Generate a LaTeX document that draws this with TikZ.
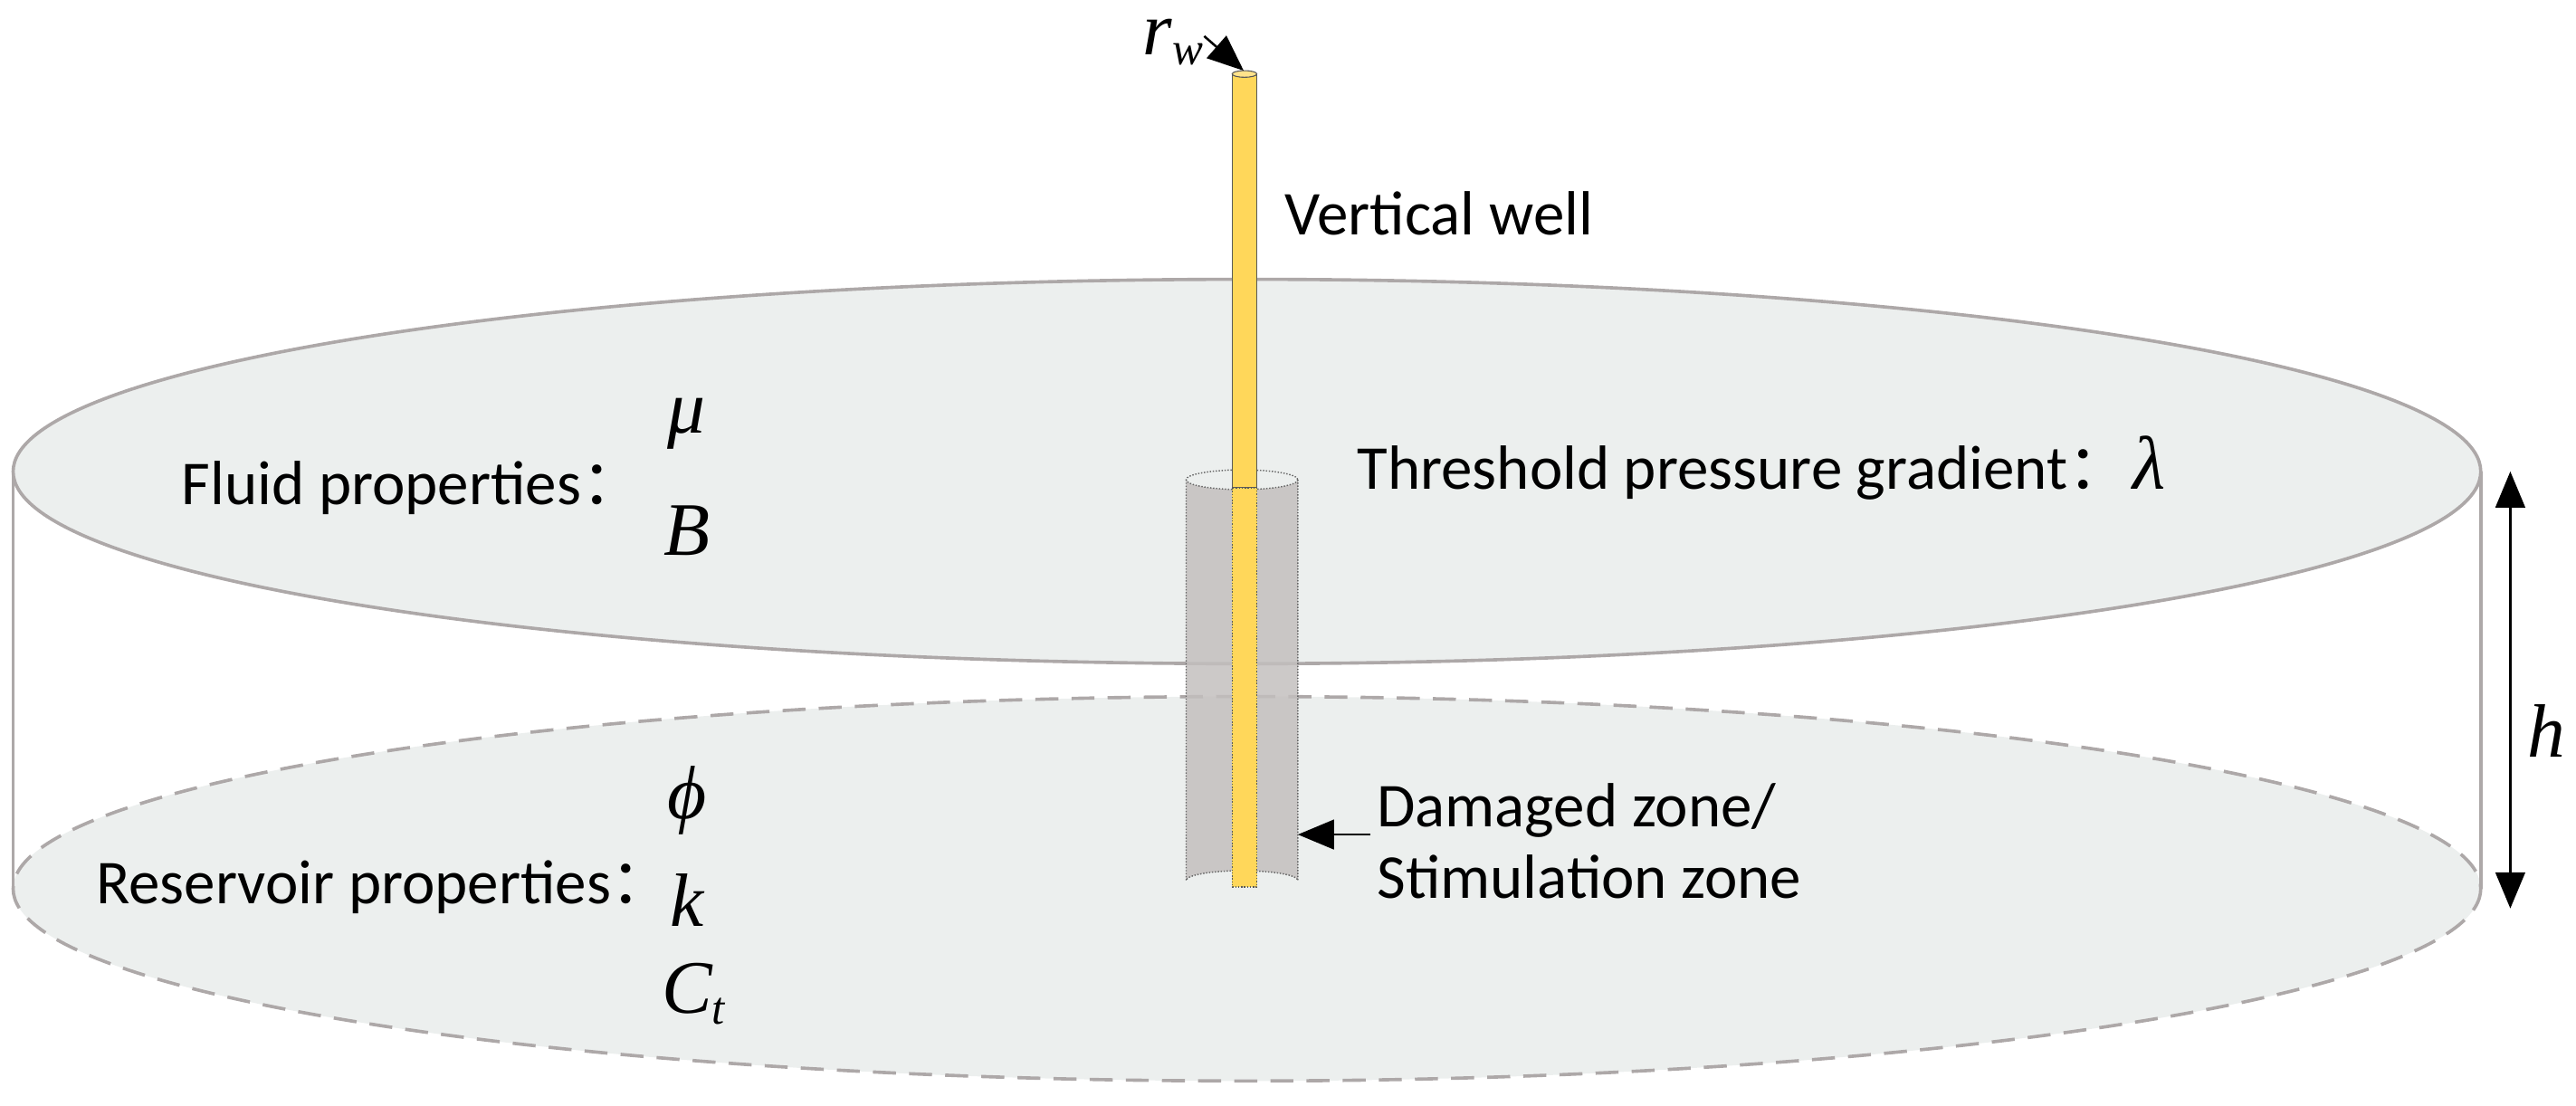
\documentclass[tikz,border=0pt]{standalone}
\usepackage{fontspec}
\setmainfont{Carlito}
\newfontfamily\cjk{Noto Sans CJK SC}
\newfontfamily\tms{Liberation Serif}
\usetikzlibrary{arrows.meta}
\definecolor{disk}{HTML}{ECEFEE}
\definecolor{rim}{HTML}{ADA8A8}
\definecolor{well}{HTML}{FFD75A}
\definecolor{dmg}{HTML}{C3BFBE}
\tikzset{
 lbl/.style={font=\fontsize{38}{44}\selectfont, inner sep=0pt},
 sym/.style={font=\tms\itshape\fontsize{46}{48}\selectfont, inner sep=0pt},
 arr/.style={-{Triangle[length=22pt,width=18pt]}, line width=1.4pt},
}
\begin{document}
\begin{tikzpicture}[x=1pt,y=-1pt]
\useasboundingbox (0,0) rectangle (1568,673);
% bottom ellipse
\fill[disk] (759,541) ellipse [x radius=751, y radius=117];
\draw[rim, line width=2pt, dash pattern=on 14pt off 8pt] (759,541) ellipse [x radius=751, y radius=117];
% sides
\draw[rim, line width=2pt] (8,287) -- (8,541);
\draw[rim, line width=2pt] (1510,287) -- (1510,541);
% top ellipse
\draw[rim, fill=disk, line width=2pt] (759,287) ellipse [x radius=751, y radius=117];
% damaged cylinder
\fill[dmg, opacity=0.85] (722,292) -- (722,536) arc[start angle=180,end angle=360,x radius=34,y radius=6] -- (790,292) arc[start angle=0,end angle=180,x radius=34,y radius=6] -- cycle;
\draw[gray!80!black, densely dotted, line width=0.8pt] (722,292) -- (722,536) arc[start angle=180,end angle=360,x radius=34,y radius=6] -- (790,292);
\draw[gray!80!black, densely dotted, line width=0.8pt] (756,292) ellipse [x radius=34, y radius=6];
% well
\draw[gray!70!black, fill=well, line width=0.8pt] (750,45) rectangle (765,297);
\draw[gray!70!black, fill=well, line width=0.8pt, densely dotted] (750,297) rectangle (765,540);
\draw[gray!70!black, fill=well!70!white, line width=0.6pt] (757.5,45) ellipse [x radius=7.5, y radius=2];
% labels
\node[sym, anchor=south] (rw) at (714,40) {r\raisebox{-6pt}{\fontsize{28}{28}\selectfont w}};
\coordinate (wtop) at (757,43);
\draw[arr] (733,22) -- (wtop);
\node[lbl, anchor=west] (vw) at (782,130) {Vertical well};
\node[lbl, anchor=west] (tp) at (826,285) {Threshold pressure gradient\cjk{：}\hspace{2pt}{\tms\itshape\fontsize{46}{48}\selectfont λ}};
\node[lbl, anchor=east] (fp) at (392,297) {Fluid properties\cjk{：}};
\node[sym] (mu) at (418,258) {μ};
\node[sym] (B) at (418,323) {B};
\node[lbl, anchor=east] (rp) at (410,540) {Reservoir properties\cjk{：}};
\node[sym] (phi) at (418,487) {ϕ};
\node[sym] (k) at (418,548) {k};
\node[sym] (ct) at (422,605) {C\raisebox{-7pt}{\fontsize{28}{28}\selectfont t}};
\node[lbl, anchor=west, align=left] (dz) at (838,512) {Damaged zone/\\Stimulation zone};
\coordinate (dzend) at (790,508);
\draw[arr] (dz.west |- dzend) ++(-4,0) coordinate (dzs) -- (dzend);
\coordinate (h1) at (1528,287);
\coordinate (h2) at (1528,553);
\draw[{Triangle[length=22pt,width=18pt]}-{Triangle[length=22pt,width=18pt]}, line width=1.4pt] (h1) -- (h2);
\node[sym] (h) at (1550,445) {h};
\end{tikzpicture}
\end{document}
